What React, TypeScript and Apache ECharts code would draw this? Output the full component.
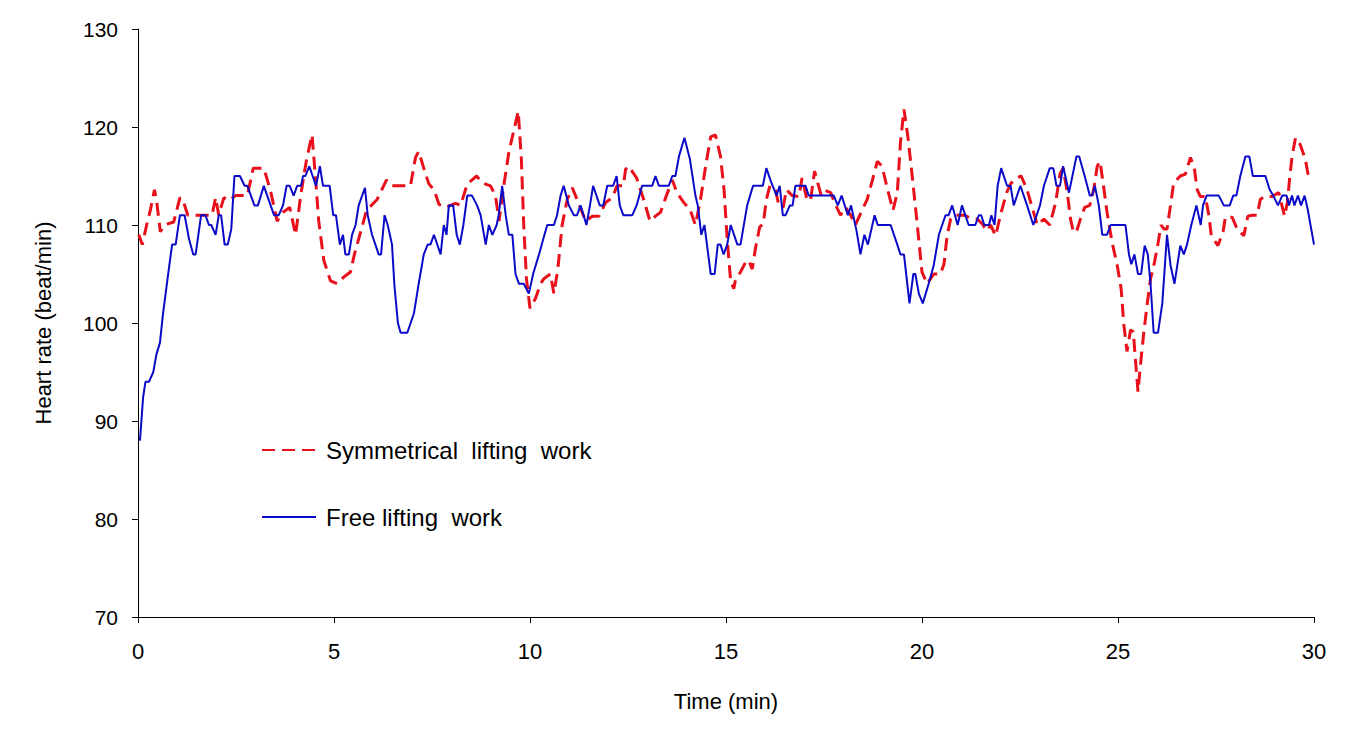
import React, { useEffect, useRef } from "react";
import * as echarts from "echarts";

const xTicks = [0, 5, 10, 15, 20, 25, 30];
const yTicks = [70, 80, 90, 100, 110, 120, 130];

const seriesNames = ["Symmetrical  lifting  work", "Free lifting  work"];

const symTime = [
  0.02, 0.11, 0.22, 0.32, 0.42, 0.47, 0.57, 0.66, 0.91, 1.07, 1.15, 1.27, 1.89, 1.98, 2.06, 2.19, 2.32, 2.49, 2.79, 2.94,
  3.21, 3.38, 3.55, 3.7, 3.87, 4.02, 4.15, 4.3, 4.44, 4.53, 4.61, 4.74, 4.91, 5.08, 5.25, 5.42, 5.52, 5.68, 5.83, 6.1,
  6.34, 6.48, 6.95, 7.08, 7.16, 7.29, 7.42, 7.55, 7.68, 7.84, 8.1, 8.23, 8.4, 8.64, 8.78, 8.99, 9.12, 9.21, 9.33, 9.46,
  9.59, 9.7, 9.78, 9.84, 9.91, 10.0, 10.14, 10.27, 10.35, 10.52, 10.61, 10.71, 10.82, 10.95, 11.08, 11.25, 11.42, 11.59, 11.76, 11.93,
  12.1, 12.22, 12.38, 12.44, 12.52, 12.72, 12.9, 13.06, 13.2, 13.33, 13.48, 13.63, 13.75, 13.92, 14.08, 14.22, 14.35, 14.48, 14.61, 14.73,
  14.86, 14.95, 15.03, 15.12, 15.2, 15.24, 15.37, 15.5, 15.58, 15.67, 15.75, 15.86, 15.95, 16.03, 16.12, 16.26, 16.35, 16.46, 16.54, 16.69,
  16.86, 16.94, 17.07, 17.16, 17.26, 17.34, 17.43, 17.54, 17.67, 17.79, 17.92, 18.05, 18.18, 18.3, 18.47, 18.6, 18.73, 18.86, 18.98, 19.11,
  19.26, 19.37, 19.45, 19.54, 19.64, 19.75, 19.88, 20.0, 20.13, 20.3, 20.47, 20.56, 20.64, 20.73, 20.81, 21.07, 21.3, 21.41, 21.54, 21.65,
  21.75, 21.88, 22.0, 22.16, 22.26, 22.41, 22.53, 22.68, 22.81, 22.94, 23.11, 23.26, 23.41, 23.52, 23.6, 23.7, 23.79, 23.86, 23.94, 24.04,
  24.15, 24.28, 24.38, 24.47, 24.54, 24.62, 24.72, 24.85, 24.98, 25.08, 25.15, 25.23, 25.32, 25.39, 25.45, 25.51, 25.57, 25.66, 25.74, 25.83,
  25.93, 26.02, 26.1, 26.17, 26.25, 26.34, 26.42, 26.59, 26.72, 26.85, 26.95, 27.02, 27.1, 27.23, 27.32, 27.38, 27.55, 27.68, 27.74, 27.91,
  28.04, 28.21, 28.31, 28.42, 28.55, 28.63, 28.72, 28.93, 29.1, 29.25, 29.32, 29.38, 29.44, 29.53, 29.65, 29.78, 29.87, 29.93,
];
const symHR = [
  109, 108, 110, 111.6, 113.6, 112.6, 109.3, 110, 110.3, 112.8, 112.5, 111, 111, 112.8, 111, 112.8, 112.5, 113, 113, 115.8,
  115.8, 113.5, 110.4, 111.3, 111.8, 109, 113, 116.7, 119.2, 114.7, 110.4, 106.4, 104.3, 104, 104.7, 105.2, 107, 109.3, 111.5, 112.6,
  114.6, 114, 114, 116.9, 117.5, 115.8, 114.2, 113.6, 112.1, 111.8, 112.2, 112, 114.2, 115, 114.3, 114, 113, 110.4, 114, 117.4,
  119.7, 121.6, 116.7, 110, 104.5, 101.5, 102.5, 104, 104.5, 105, 103, 105.5, 110, 112.6, 113.8, 112.1, 110.4, 110.9, 110.9, 112.3,
  112.8, 114, 114, 115.7, 116, 114.8, 112.6, 110.4, 110.9, 111.3, 113, 114.6, 113.3, 112.3, 111.6, 110, 112.6, 116, 119, 119.2,
  117, 113.6, 108.6, 104.2, 103.5, 104.4, 105.2, 106.2, 106.4, 105.5, 107.6, 109.8, 110.1, 112.6, 114, 113.6, 112, 111.8, 113.6, 113,
  112.9, 114.8, 112.5, 112.6, 115.5, 114.3, 113, 113.5, 113.3, 112.1, 111, 111.8, 111, 110, 111.5, 112.6, 114.5, 116.5, 116, 113.8,
  111.5, 113.3, 118.4, 121.8, 119, 115, 110, 105.2, 104, 105, 105, 106, 108.9, 110.6, 111, 111, 110.6, 110.6, 110.1, 109.4,
  110, 108.9, 111, 113.3, 114.2, 114.8, 115, 113.6, 111.8, 110, 110.6, 110, 112.3, 115.2, 115.8, 113.5, 110.6, 109.3, 109.3, 110.6,
  111.8, 112, 113.6, 116, 116.5, 114.3, 111.3, 108.2, 105.9, 103.5, 99.8, 97.1, 99.3, 99.1, 96, 93, 95.6, 99.1, 101.8, 104.5,
  106.2, 108.1, 110, 109.6, 109.6, 112, 114.3, 115, 115.2, 116.9, 115.7, 113.6, 112.9, 112.9, 110.9, 108.9, 107.9, 109.3, 110.8, 110.8,
  109.6, 108.9, 110.9, 111, 111, 112.6, 112.9, 112.9, 113.3, 110.9, 112.3, 114.8, 117, 118.9, 118.2, 116.7, 114.7, 114.6,
];

const freeTime = [
  0.05, 0.13, 0.19, 0.28, 0.39, 0.47, 0.56, 0.64, 0.76, 0.87, 0.96, 1.07, 1.19, 1.3, 1.41, 1.47, 1.61, 1.72, 1.81, 1.87,
  1.98, 2.06, 2.12, 2.21, 2.29, 2.38, 2.46, 2.6, 2.72, 2.79, 2.97, 3.06, 3.21, 3.47, 3.59, 3.7, 3.79, 3.87, 3.97, 4.06,
  4.16, 4.21, 4.27, 4.37, 4.54, 4.64, 4.72, 4.89, 4.98, 5.05, 5.15, 5.23, 5.29, 5.38, 5.46, 5.55, 5.63, 5.79, 5.86, 5.97,
  6.14, 6.2, 6.29, 6.37, 6.48, 6.54, 6.63, 6.7, 6.87, 7.04, 7.16, 7.29, 7.39, 7.46, 7.55, 7.72, 7.8, 7.87, 7.93, 8.04,
  8.13, 8.21, 8.3, 8.4, 8.52, 8.65, 8.74, 8.87, 8.95, 9.04, 9.15, 9.2, 9.29, 9.38, 9.46, 9.55, 9.63, 9.72, 9.84, 9.97,
  10.08, 10.23, 10.34, 10.44, 10.61, 10.69, 10.78, 10.86, 10.99, 11.12, 11.2, 11.29, 11.44, 11.53, 11.61, 11.78, 11.87, 11.97, 12.12, 12.21,
  12.29, 12.38, 12.61, 12.72, 12.86, 13.12, 13.2, 13.29, 13.54, 13.63, 13.71, 13.8, 13.94, 14.08, 14.22, 14.28, 14.37, 14.45, 14.61, 14.71,
  14.79, 14.86, 14.94, 15.03, 15.12, 15.29, 15.37, 15.54, 15.69, 15.94, 16.03, 16.14, 16.29, 16.37, 16.45, 16.52, 16.63, 16.7, 16.77, 17.03,
  17.11, 17.75, 17.85, 17.95, 18.11, 18.19, 18.33, 18.43, 18.53, 18.62, 18.79, 18.87, 19.2, 19.37, 19.45, 19.54, 19.68, 19.78, 19.83, 19.92,
  20.02, 20.17, 20.3, 20.43, 20.6, 20.68, 20.77, 20.91, 21.02, 21.19, 21.36, 21.45, 21.51, 21.59, 21.71, 21.77, 21.85, 21.93, 22.02, 22.17,
  22.26, 22.34, 22.51, 22.68, 22.84, 23.01, 23.11, 23.26, 23.35, 23.43, 23.52, 23.6, 23.75, 23.94, 24.01, 24.15, 24.28, 24.34, 24.41, 24.51,
  24.6, 24.72, 24.81, 25.19, 25.28, 25.34, 25.42, 25.51, 25.59, 25.68, 25.76, 25.83, 25.91, 26.02, 26.13, 26.25, 26.34, 26.44, 26.59, 26.68,
  26.76, 26.87, 27.0, 27.11, 27.17, 27.26, 27.57, 27.7, 27.85, 27.94, 28.02, 28.12, 28.25, 28.35, 28.44, 28.76, 28.87, 28.96, 29.08, 29.19,
  29.3, 29.36, 29.44, 29.5, 29.59, 29.67, 29.76, 29.84, 30.0,
];
const freeHR = [
  88, 92.4, 94, 94, 95, 96.8, 98, 101, 104.7, 108, 108, 111, 111, 108.6, 107, 107, 111, 111, 110, 110,
  109, 111, 111, 108, 108, 109.6, 115, 115, 114, 114, 112, 112, 114, 111, 111, 112, 114, 114, 113, 114,
  114, 115, 115, 116, 114, 116, 114, 114, 111, 111, 108, 109, 107, 107, 109, 110, 112, 113.8, 111, 109,
  107, 107, 111, 110, 108, 103.9, 100, 99, 99, 101, 104, 107, 108, 108, 109, 107, 110, 109, 112, 112,
  109, 108, 110, 113, 113, 112, 111, 108, 110, 109, 110, 111, 114, 111, 109, 109, 105, 104, 104, 103,
  105, 107, 108.6, 110, 110, 111, 113, 114, 112, 111, 111, 112, 110, 112, 114, 112, 112, 114, 114, 115,
  112, 111, 111, 112, 114, 114, 115, 114, 114, 115, 115, 117, 118.9, 116.7, 113, 112, 109, 110, 105, 105,
  108, 108, 107, 108, 110, 108, 108, 112, 114, 114, 115.8, 114.5, 113, 114, 111, 111, 112, 112, 114, 114,
  113, 113, 112, 113, 111, 112, 109.4, 107, 109, 108, 111, 110, 110, 108, 107, 107, 102, 105, 105, 103,
  102, 104, 105.9, 109, 111, 111, 112, 110, 112, 110, 110, 111, 111, 110, 110, 111, 110, 114, 115.8, 114,
  114, 112, 114, 112, 110, 112, 114, 115.8, 115.8, 114, 114, 116, 113.3, 117, 117, 115, 113, 113, 114, 112,
  109, 109, 110, 110, 107, 106, 107, 105, 105, 107.9, 107, 104, 99, 99, 102, 109, 105.9, 104, 107.9, 107,
  108, 110, 112, 110, 112, 113, 113, 112, 112, 113, 113, 115, 117, 117, 115, 115, 113.6, 113, 112, 113,
  113, 112, 113, 112, 113, 112, 113, 111.6, 108,
];

export default function App() {
  const ref = useRef<HTMLDivElement>(null);
  useEffect(() => {
    if (!ref.current) return;
    const chart = echarts.init(ref.current, undefined, { renderer: "svg" });
    const symData = symTime.map((t, i) => [t, symHR[i]]);
    const freeData = freeTime.map((t, i) => [t, freeHR[i]]);
    const axisFont = "'Liberation Sans', Arial, sans-serif";
    chart.setOption({
      animation: false,
      backgroundColor: "#ffffff",
      grid: { left: 138, right: 38, top: 29, bottom: 127, containLabel: false },
      legend: {
        orient: "vertical",
        left: 261,
        top: 436,
        padding: 0,
        itemWidth: 54,
        itemHeight: 14,
        itemGap: 39,
        itemStyle: { opacity: 0 },
        textStyle: {
          fontSize: 24,
          lineHeight: 24,
          color: "#000",
          fontFamily: axisFont,
          padding: [4, 0, 0, 5],
        },
        data: seriesNames,
      },
      xAxis: {
        type: "value",
        min: xTicks[0],
        max: xTicks[xTicks.length - 1],
        interval: 5,
        name: "Time (min)",
        nameLocation: "middle",
        nameGap: 73,
        nameTextStyle: { fontSize: 22, color: "#000", fontFamily: axisFont },
        axisLine: { lineStyle: { color: "#000", width: 1 } },
        axisTick: { show: true, inside: false, length: 6, lineStyle: { color: "#000" } },
        axisLabel: { fontSize: 22, color: "#000", margin: 23, fontFamily: axisFont },
        splitLine: { show: false },
      },
      yAxis: {
        type: "value",
        min: yTicks[0],
        max: yTicks[yTicks.length - 1],
        interval: 10,
        name: "Heart rate (beat/min)",
        nameLocation: "middle",
        nameGap: 84,
        nameTextStyle: { fontSize: 22, color: "#000", fontFamily: axisFont },
        axisLine: { show: true, lineStyle: { color: "#000", width: 1 } },
        axisTick: { show: true, inside: false, length: 6, lineStyle: { color: "#000" } },
        axisLabel: { fontSize: 21, color: "#000", margin: 20, fontFamily: axisFont },
        splitLine: { show: false },
      },
      series: [
        {
          name: seriesNames[0],
          type: "line",
          data: symData,
          showSymbol: false,
          symbol: "none",
          lineStyle: { color: "#e8101a", width: 3, type: [13, 7] },
          itemStyle: { color: "#e8101a" },
          z: 2,
        },
        {
          name: seriesNames[1],
          type: "line",
          data: freeData,
          showSymbol: false,
          symbol: "none",
          lineStyle: { color: "#0a0ac8", width: 2 },
          itemStyle: { color: "#0a0ac8" },
          z: 3,
        },
      ],
    });
    return () => chart.dispose();
  }, []);
  return <div ref={ref} style={{ width: 1352, height: 744, margin: -8 }} />;
}
